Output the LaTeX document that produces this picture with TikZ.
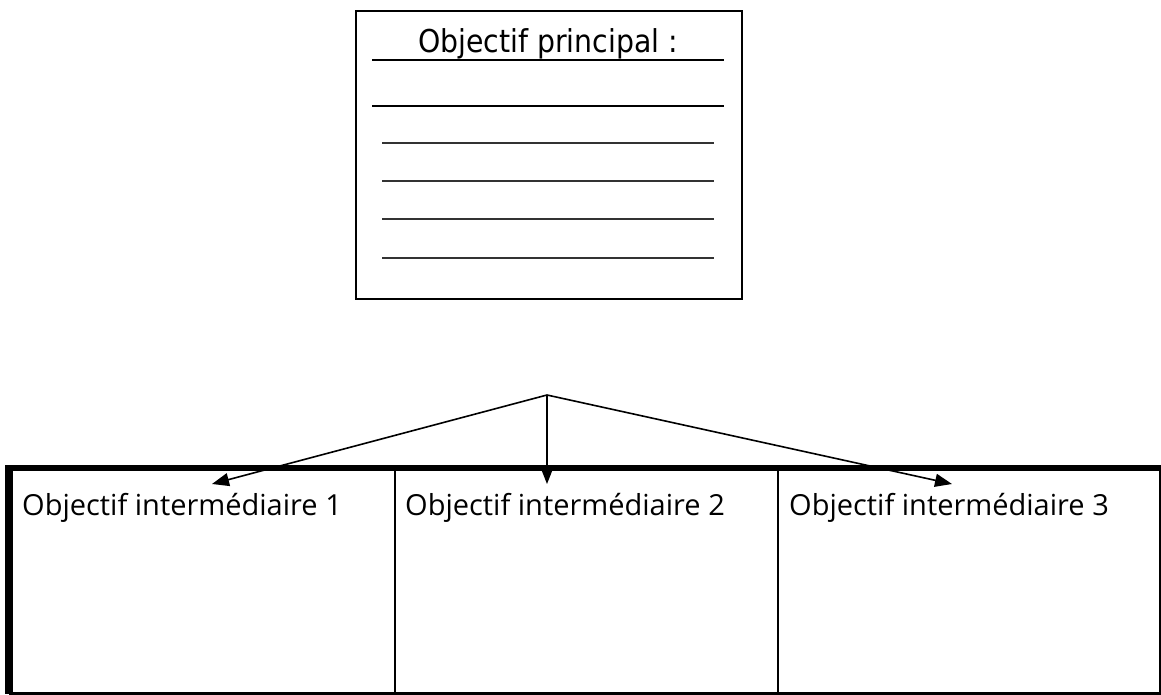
\documentclass[tikz,border=0pt]{standalone}
\usepackage{fontspec}
\setmainfont{Open Sans}
\newfontfamily\titlefont[FakeStretch=0.9]{DejaVu Sans}
\usetikzlibrary{arrows.meta}
\begin{document}
\begin{tikzpicture}[x=1pt,y=-1pt,
  frame/.style={draw=black,line width=2.2pt},
  rule/.style={line width=1.8pt},
  blank/.style={line width=2.2pt,black!80},
  celltext/.style={anchor=base west,inner sep=0pt,font=\fontsize{29}{34}\selectfont},
  cellbox/.style={draw=black,line width=1.8pt,inner sep=0pt,anchor=north west},
  link/.style={line width=1.6pt,-{Triangle[length=17pt,width=13pt]}}]
\useasboundingbox (0,0) rectangle (1161,695);
% main objective box
\node[frame,minimum width=386pt,minimum height=288pt,inner sep=0pt,anchor=north west] (main) at (355,10) {};
\node[anchor=base,inner sep=0pt,font=\titlefont\fontsize{31.5}{36}\selectfont] (title) at (548,53) {Objectif principal :};
\draw[rule] (372,60) -- (724,60);
\draw[rule] (372,106) -- (724,106);
\foreach \yy in {143,181,219,258} \draw[blank] (382,\yy) -- (714,\yy);
% table cells
\node[cellbox,minimum width=385pt,minimum height=224pt] (c1) at (9,468) {};
\node[cellbox,minimum width=383pt,minimum height=224pt] (c2) at (394,468) {};
\node[cellbox,minimum width=382pt,minimum height=224pt] (c3) at (777,468) {};
\draw[line width=6pt] (c1.north west) -- (c3.north east);
\draw[line width=8pt] ([yshift=3pt]c1.north west) -- (c1.south west);
\draw[line width=3pt] (c1.south west) -- (c3.south east);
\node[celltext] (l1) at (22,515) {Objectif intermédiaire 1};
\node[celltext] (l2) at (405,515) {Objectif intermédiaire 2};
\node[celltext] (l3) at (789,515) {Objectif intermédiaire 3};
% connectors
\coordinate (hub) at (547,395);
\coordinate (t1) at (212,484);
\coordinate (t2) at (547,484);
\coordinate (t3) at (952,484);
\draw[link] (hub) -- (t1);
\draw[link] (hub) -- (t2);
\draw[link] (hub) -- (t3);
\end{tikzpicture}
\end{document}
